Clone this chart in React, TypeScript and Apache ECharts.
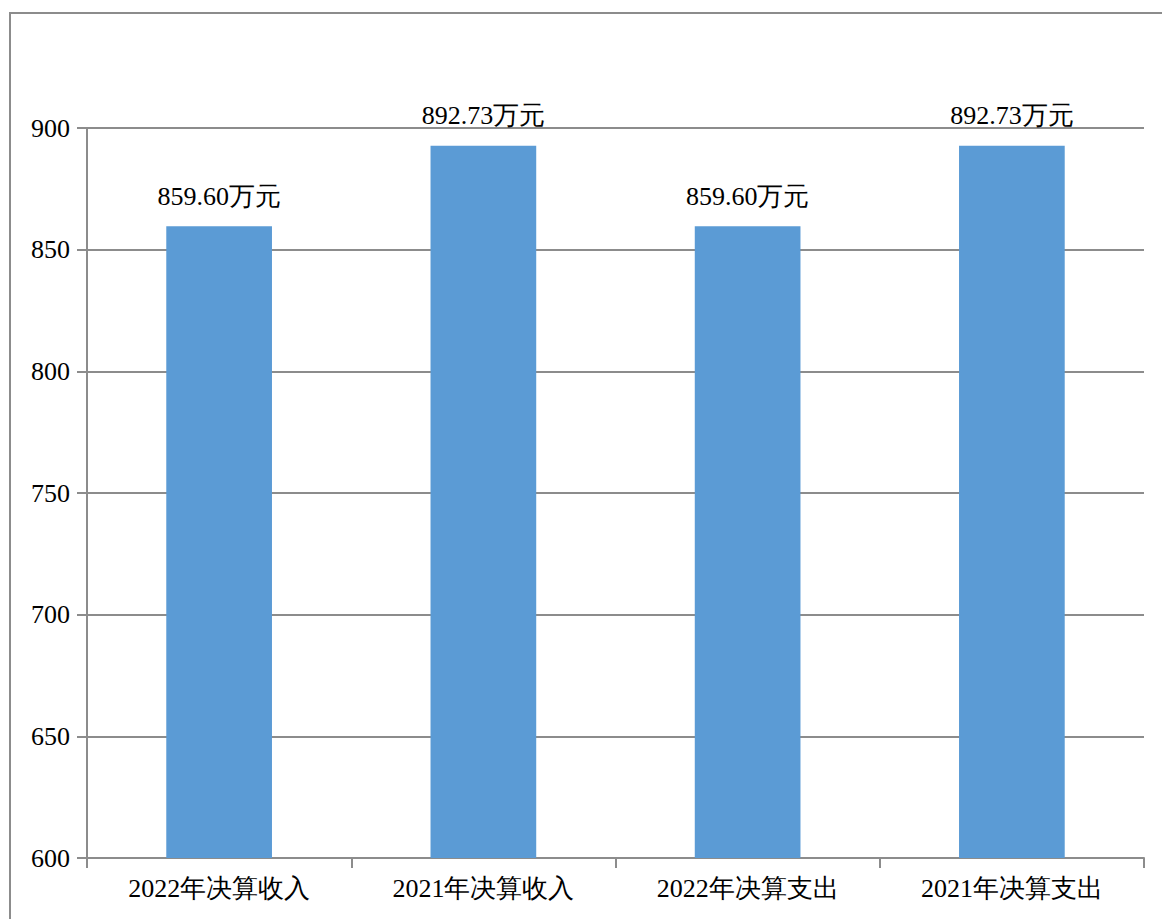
import React, { useEffect, useRef } from "react";
import * as echarts from "echarts";

const categories = ["2022年决算收入", "2021年决算收入", "2022年决算支出", "2021年决算支出"];
const values = [859.6, 892.73, 859.6, 892.73];
const yMin = 600;
const yMax = 900;
const yInterval = 50;

export default function App() {
  const ref = useRef<HTMLDivElement>(null);
  useEffect(() => {
    document.body.style.margin = "0";
    const chart = echarts.init(ref.current!, null, { renderer: "svg" });
    const font = "serif";
    const gray = "#8c8c8c";
    chart.setOption({
      animation: false,
      backgroundColor: "#ffffff",
      graphic: [
        {
          type: "rect",
          shape: { x: 10, y: 13, width: 1200, height: 1000 },
          style: { fill: "none", stroke: gray, lineWidth: 2 },
          silent: true,
        },
      ],
      grid: { left: 87, top: 128, right: 18, bottom: 61 },
      xAxis: {
        type: "category",
        data: categories,
        boundaryGap: true,
        axisLine: { show: true, lineStyle: { color: gray, width: 2 } },
        axisTick: { show: true, length: 10, lineStyle: { color: gray, width: 2 } },
        axisLabel: { color: "#000", fontFamily: font, fontSize: 26, margin: 17 },
      },
      yAxis: {
        type: "value",
        min: yMin,
        max: yMax,
        interval: yInterval,
        axisLine: { show: true, lineStyle: { color: gray, width: 2 } },
        axisTick: { show: true, length: 10, lineStyle: { color: gray, width: 2 } },
        axisLabel: { color: "#000", fontFamily: font, fontSize: 26, margin: 17 },
        splitLine: { show: true, lineStyle: { color: gray, width: 2 } },
      },
      series: [
        {
          type: "bar",
          data: values,
          barWidth: "40%",
          itemStyle: { color: "#5b9bd5" },
          label: {
            show: true,
            position: "top",
            distance: 17,
            color: "#000",
            fontFamily: font,
            fontSize: 26,
            formatter: (p: any) => Number(p.value).toFixed(2) + "万元",
          },
        },
      ],
    });
    return () => chart.dispose();
  }, []);
  return <div ref={ref} style={{ width: 1162, height: 919 }} />;
}
